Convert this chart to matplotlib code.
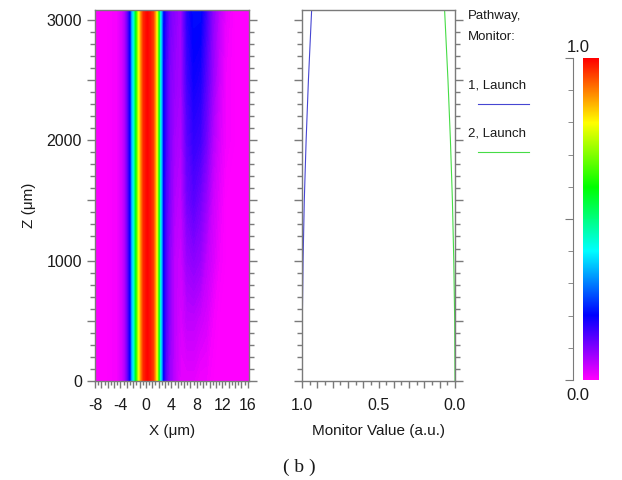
import numpy as np
import matplotlib
matplotlib.use("Agg")
import matplotlib.pyplot as plt
from matplotlib.colors import LinearSegmentedColormap
from matplotlib.ticker import MultipleLocator, FuncFormatter
from matplotlib.lines import Line2D

plt.rcParams["font.family"] = ["Liberation Sans", "DejaVu Sans"]

x_um = [-8, -6, -4.5, -3.8, -3.2, -2.8, -2.4, -2.1, -1.7, -1.2, -0.8, -0.4,
        0.2, 0.8, 1.2, 1.5, 1.8, 2.1, 2.4, 2.7, 3.1, 3.7, 4.5, 5.5, 6.5,
        7.5, 8.5, 9.5, 10.5, 11.5, 12.5, 14, 16.2]
z_um = [0, 500, 1000, 1500, 2000, 2500, 3080]

campo = [
    [0, 0, 0.01, 0.03, 0.07, 0.13, 0.21, 0.37, 0.55, 0.77, 0.9, 0.97,
     1.0, 0.98, 0.95, 0.88, 0.78, 0.58, 0.36, 0.2, 0.13, 0.08, 0.05, 0.02, 0.02,
     0.02, 0.01, 0.01, 0, 0, 0, 0, 0],
    [0, 0, 0.01, 0.03, 0.07, 0.13, 0.21, 0.37, 0.55, 0.77, 0.9, 0.97,
     1.0, 0.98, 0.95, 0.88, 0.78, 0.58, 0.36, 0.2, 0.14, 0.09, 0.05, 0.03, 0.05,
     0.05, 0.04, 0.03, 0.01, 0, 0, 0, 0],
    [0, 0, 0.01, 0.03, 0.07, 0.13, 0.21, 0.37, 0.55, 0.77, 0.9, 0.97,
     1.0, 0.98, 0.95, 0.88, 0.78, 0.58, 0.36, 0.2, 0.14, 0.09, 0.05, 0.04, 0.08,
     0.09, 0.08, 0.05, 0.03, 0.01, 0, 0, 0],
    [0, 0, 0.01, 0.03, 0.07, 0.13, 0.21, 0.37, 0.55, 0.77, 0.9, 0.97,
     1.0, 0.98, 0.95, 0.88, 0.78, 0.58, 0.36, 0.2, 0.14, 0.1, 0.06, 0.05, 0.11,
     0.13, 0.11, 0.08, 0.04, 0.02, 0, 0, 0],
    [0, 0, 0.01, 0.03, 0.07, 0.13, 0.21, 0.37, 0.55, 0.77, 0.9, 0.97,
     1.0, 0.98, 0.95, 0.88, 0.78, 0.58, 0.36, 0.2, 0.15, 0.1, 0.07, 0.06, 0.13,
     0.16, 0.15, 0.11, 0.06, 0.03, 0.01, 0, 0],
    [0, 0, 0.01, 0.03, 0.07, 0.13, 0.21, 0.37, 0.55, 0.77, 0.9, 0.97,
     1.0, 0.98, 0.95, 0.88, 0.78, 0.58, 0.36, 0.2, 0.15, 0.1, 0.08, 0.07, 0.15,
     0.19, 0.18, 0.13, 0.08, 0.04, 0.01, 0, 0],
    [0, 0, 0.01, 0.03, 0.07, 0.13, 0.21, 0.37, 0.55, 0.77, 0.9, 0.97,
     1.0, 0.98, 0.95, 0.88, 0.78, 0.58, 0.36, 0.21, 0.16, 0.11, 0.09, 0.07, 0.17,
     0.21, 0.21, 0.15, 0.09, 0.05, 0.02, 0, 0],
]

# monitores
z_monitor = [0, 500, 1000, 1500, 2000, 2500, 3080]
monitor_1 = [1.0, 0.998, 0.993, 0.985, 0.973, 0.958, 0.937]
monitor_2 = [0.0, 0.002, 0.008, 0.017, 0.03, 0.046, 0.068]

colores_mapa = ["#ff00ff", "#0000ff", "#00ffff", "#00ff00", "#ffff00", "#ff0000"]

GRIS = "#7a7a7a"
TEXTO = "#1a1a1a"
W, H = 622, 480
TAM_TICK = 11.5
TAM_LABEL = 11


def fx(px):
    return px / W


def fy(py):
    return 1 - py / H


def estilo_ejes(ax):
    for s in ax.spines.values():
        s.set_color(GRIS)
        s.set_linewidth(1.0)
    ax.tick_params(which="both", colors=GRIS, labelcolor=TEXTO,
                   labelsize=TAM_TICK, width=1.0, direction="out")
    ax.tick_params(which="major", length=6)
    ax.tick_params(which="minor", length=3.5)


mapa = LinearSegmentedColormap.from_list("rsoft", colores_mapa, N=512)

fig = plt.figure(figsize=(6.22, 4.8), dpi=100)

# panel del campo
ax1 = fig.add_axes([fx(95), 1 - 381 / H, fx(154), 371 / H])
ax1.contourf(x_um, z_um, np.array(campo), levels=np.linspace(0, 1, 201),
             cmap=mapa, vmin=0, vmax=1, extend="both")
ax1.set_xlim(-8, 16.2)
ax1.set_ylim(0, 3080)
estilo_ejes(ax1)
ax1.tick_params(axis="y", which="both", left=True, right=True)
ax1.yaxis.set_major_locator(MultipleLocator(500))
ax1.yaxis.set_minor_locator(MultipleLocator(100))
ax1.yaxis.set_major_formatter(
    FuncFormatter(lambda v, p: f"{v:.0f}" if v % 1000 == 0 else ""))
ax1.xaxis.set_major_locator(MultipleLocator(1))
ax1.xaxis.set_minor_locator(MultipleLocator(0.5))
ax1.xaxis.set_major_formatter(
    FuncFormatter(lambda v, p: f"{v:.0f}" if round(v) % 4 == 0 else ""))
ax1.tick_params(axis="x", which="major", length=5, pad=7)
ax1.tick_params(axis="x", which="minor", length=3)
ax1.set_xlabel("X (μm)", fontsize=TAM_LABEL, color=TEXTO, labelpad=8)

fig.text(fx(29), fy(205), "Z (μm)", rotation=90, ha="center", va="center",
         fontsize=TAM_LABEL, color=TEXTO)

# panel de monitores
ax2 = fig.add_axes([fx(302), 1 - 381 / H, fx(153), 371 / H])
ax2.plot(monitor_1, z_monitor, color="#4646d2", lw=0.8)
ax2.plot(monitor_2, z_monitor, color="#46dc46", lw=0.8)
ax2.set_xlim(1.0, 0.0)
ax2.set_ylim(0, 3080)
estilo_ejes(ax2)
ax2.tick_params(axis="y", which="both", left=True, right=True,
                labelleft=False)
ax2.yaxis.set_major_locator(MultipleLocator(500))
ax2.yaxis.set_minor_locator(MultipleLocator(100))
ax2.xaxis.set_major_locator(MultipleLocator(0.1))
ax2.xaxis.set_minor_locator(MultipleLocator(0.05))
ax2.xaxis.set_major_formatter(
    FuncFormatter(lambda v, p: f"{v:.1f}" if round(v * 10) % 5 == 0 else ""))
ax2.tick_params(axis="x", which="major", length=5, pad=7)
ax2.tick_params(axis="x", which="minor", length=3)
ax2.set_xlabel("Monitor Value (a.u.)", fontsize=TAM_LABEL, color=TEXTO,
               labelpad=8)

# leyenda
fig.text(fx(468), fy(16), "Pathway,", fontsize=9.5, color=TEXTO, va="center")
fig.text(fx(468), fy(37), "Monitor:", fontsize=9.5, color=TEXTO, va="center")
fig.text(fx(468), fy(86), "1, Launch", fontsize=9.5, color=TEXTO, va="center")
fig.text(fx(468), fy(134), "2, Launch", fontsize=9.5, color=TEXTO, va="center")
fig.add_artist(Line2D([fx(478), fx(529)], [fy(104), fy(104)],
                      color="#4646d2", lw=0.8))
fig.add_artist(Line2D([fx(478), fx(529)], [fy(152), fy(152)],
                      color="#46dc46", lw=0.8))

# barra de color
ax3 = fig.add_axes([fx(583), 1 - 380 / H, fx(16), 322 / H])
ax3.imshow(np.linspace(0, 1, 256).reshape(-1, 1), cmap=mapa, aspect="auto",
           origin="lower", extent=[0, 1, 0, 1])
ax3.set_axis_off()

ax4 = fig.add_axes([fx(573), 1 - 380 / H, 0.0001, 322 / H])
for lado in ["top", "right", "bottom"]:
    ax4.spines[lado].set_visible(False)
ax4.spines["left"].set_color(GRIS)
ax4.set_ylim(0, 1)
ax4.set_xticks([])
ax4.yaxis.set_major_locator(MultipleLocator(0.5))
ax4.yaxis.set_minor_locator(MultipleLocator(0.1))
ax4.tick_params(which="both", colors=GRIS, labelleft=False, direction="out")
ax4.tick_params(which="major", length=6)
ax4.tick_params(which="minor", length=3.5)
fig.text(fx(578), fy(47), "1.0", ha="center", va="center", fontsize=12,
         color=TEXTO)
fig.text(fx(578), fy(396), "0.0", ha="center", va="center", fontsize=12,
         color=TEXTO)

fig.text(fx(299), fy(467), "( b )", ha="center", va="center", fontsize=14,
         color=TEXTO, family=["Liberation Serif", "DejaVu Serif"])

fig.savefig("out.png", dpi=100)
